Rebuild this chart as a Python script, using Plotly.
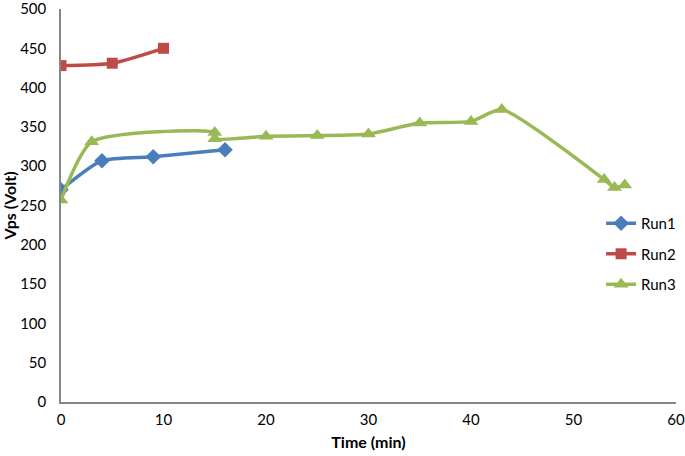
import plotly.graph_objects as go

# Data
run1_t = [0, 4, 9, 16]
run1_v = [270, 307, 312, 321]

run2_t = [0, 5, 10]
run2_v = [428, 431, 450]

run3_t = [0, 3, 15, 15, 20, 25, 30, 35, 40, 43, 53, 54, 55]
run3_v = [257, 331, 343, 335, 338, 339, 341, 355, 357, 372, 283, 273, 276]

x_ticks = [0, 10, 20, 30, 40, 50, 60]
y_ticks = [0, 50, 100, 150, 200, 250, 300, 350, 400, 450, 500]

FONT = "Lato, 'Liberation Sans', sans-serif"
SMOOTH = 0.6

fig = go.Figure()
fig.add_trace(go.Scatter(
    x=run1_t, y=run1_v, name="Run1", mode="lines+markers", legendgroup="1",
    line=dict(color="#4A7EBB", width=3.5, shape="spline", smoothing=SMOOTH),
    marker=dict(symbol="diamond", size=12, color="#4A7EBB")))
fig.add_trace(go.Scatter(
    x=run2_t, y=run2_v, name="Run2", mode="lines+markers", legendgroup="2",
    line=dict(color="#BE4B48", width=3.5, shape="spline", smoothing=SMOOTH),
    marker=dict(symbol="square", size=11, color="#BE4B48")))
fig.add_trace(go.Scatter(
    x=run3_t, y=run3_v, name="Run3", mode="lines+markers", legendgroup="3",
    line=dict(color="#98B954", width=3.5, shape="spline", smoothing=SMOOTH),
    marker=dict(symbol="triangle-up", size=13, color="#98B954")))

fig.update_layout(
    width=685, height=456,
    margin=dict(l=61, r=9, t=9, b=54, autoexpand=False),
    paper_bgcolor="white", plot_bgcolor="white",
    font=dict(family=FONT, size=15, color="black"),
    showlegend=True,
    legend=dict(xref="container", yref="container", x=0.8775, y=0.546,
                xanchor="left", yanchor="top",
                bgcolor="rgba(0,0,0,0)", font=dict(size=15),
                tracegroupgap=8, traceorder="grouped"),
    xaxis=dict(range=[0, 60], tickvals=x_ticks, showgrid=False, zeroline=False,
               showline=True, linecolor="#868686", linewidth=1.5, automargin=False,
               ticklabeloverflow="allow",
               ticks="outside", ticklen=3, tickcolor="white",
               title=dict(text="<b>Time (min)</b>", font=dict(size=16), standoff=10)),
    yaxis=dict(range=[0, 500], tickvals=y_ticks, showgrid=False, zeroline=False,
               showline=True, linecolor="#868686", linewidth=1.5, automargin=False,
               ticklabeloverflow="allow",
               ticks="outside", ticklen=10, tickcolor="white",
               title=dict(text="<b>Vps (Volt)</b>", font=dict(size=16), standoff=1)),
)

fig.write_html("out.html", config={"displayModeBar": False},
               post_script="document.body.style.margin='0px';")
